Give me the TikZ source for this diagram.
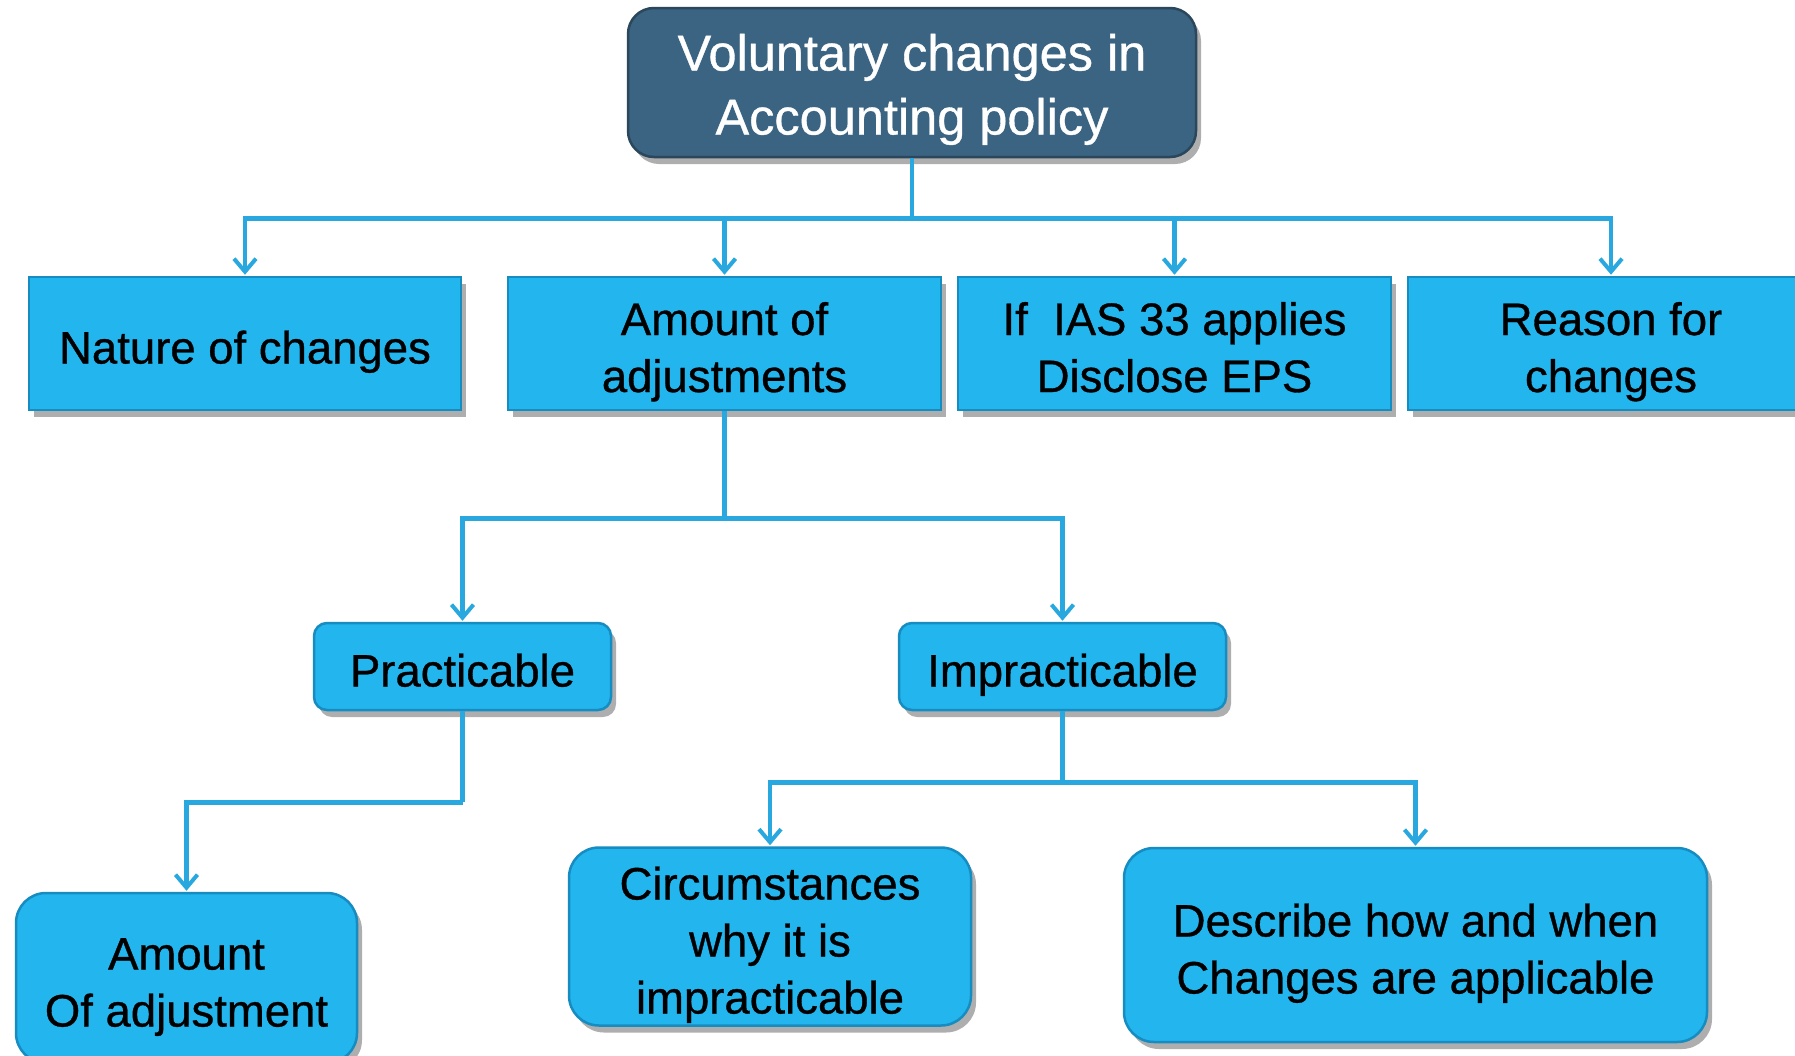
\documentclass[tikz,border=0pt]{standalone}
\usepackage{fontspec}
\setmainfont{Liberation Sans}[FakeBold=0.7]
\usetikzlibrary{arrows.meta,shadows}
\definecolor{rootfill}{HTML}{3B6482}
\definecolor{rootline}{HTML}{2A475C}
\definecolor{boxfill}{HTML}{22B5EE}
\definecolor{boxline}{HTML}{178CC0}
\definecolor{connc}{HTML}{29A8DF}
\newcommand\tstr[1]{\rule{0pt}{#1}}
\newcommand\bstr[1]{\rule[-#1]{0pt}{#1}}
\tikzset{
  shad/.style={drop shadow={shadow xshift=5pt,shadow yshift=-7pt,opacity=0.45,fill=black!70}},
  rootbox/.style={shad,draw=rootline,line width=2.5pt,fill=rootfill,rounded corners=26pt,
    text=white,align=center,inner sep=0pt,font=\fontsize{50.5}{64}\selectfont},
  sqbox/.style={shad,draw=boxline,line width=2.5pt,fill=boxfill,align=center,inner sep=0pt,
    font=\fontsize{45.5}{57}\selectfont},
  rndbox/.style={sqbox,rounded corners=13pt},
  bigbox/.style={sqbox,rounded corners=30pt},
  conn/.style={draw=connc,line width=4.5pt},
  arr/.style={conn,-{Straight Barb[length=13pt,width=22pt,line width=4pt]}},
}
\begin{document}
\begin{tikzpicture}[x=1pt,y=-1pt]
\useasboundingbox[fill=white] (0,0) rectangle (1795,1055);
% nodes
\node[rootbox,minimum width=568pt,minimum height=149pt] (root) at (912,82.5) {\tstr{53pt}Voluntary changes in\\Accounting policy\bstr{13pt}};
\node[sqbox,minimum width=432pt,minimum height=133pt] (nat) at (245,343.5) {\tstr{52pt}Nature of changes\bstr{12pt}};
\node[sqbox,minimum width=433pt,minimum height=133pt] (amt) at (724.5,343.5) {\tstr{52pt}Amount of\\adjustments\bstr{12pt}};
\node[sqbox,minimum width=433pt,minimum height=133pt] (ias) at (1174.5,343.5) {\tstr{52pt}If\ \ IAS 33 applies\\Disclose EPS\bstr{12pt}};
\node[sqbox,minimum width=406pt,minimum height=133pt] (rea) at (1611,343.5) {\tstr{52pt}Reason for\\changes\bstr{12pt}};
\node[rndbox,minimum width=297pt,minimum height=87pt] (prac) at (462.5,666.5) {\tstr{52pt}Practicable\bstr{12pt}};
\node[rndbox,minimum width=327pt,minimum height=87pt] (impr) at (1062.5,666.5) {\tstr{52pt}Impracticable\bstr{12pt}};
\node[bigbox,minimum width=341pt,minimum height=170pt] (adj) at (186.5,978) {\tstr{52pt}Amount\\Of adjustment\bstr{12pt}};
\node[bigbox,minimum width=402pt,minimum height=177pt] (circ) at (770,936.5) {\tstr{52pt}Circumstances\\why it is\\impracticable\bstr{12pt}};
\node[bigbox,minimum width=583pt,minimum height=194pt] (desc) at (1415.5,945) {\tstr{52pt}Describe how and when\\Changes are applicable\bstr{12pt}};
% connectors
\coordinate (b1) at ([yshift=-60pt]root.south);
\draw[conn] (root.south) -- (b1);
\draw[arr] (b1) -| ([yshift=1pt]nat.north);
\draw[arr] (b1) -| ([yshift=1pt]amt.north);
\draw[arr] (b1) -| ([yshift=1pt]ias.north);
\draw[arr] (b1) -| ([yshift=1pt]rea.north);
\coordinate (b2) at ([yshift=-107pt]amt.south);
\draw[conn] (amt.south) -- (b2);
\draw[arr] (b2) -| ([yshift=1pt]prac.north);
\draw[arr] (b2) -| ([yshift=1pt]impr.north);
\coordinate (b3) at ([yshift=-91pt]prac.south);
\draw[conn] (prac.south) -- (b3);
\draw[arr] (b3) -| ([yshift=1pt]adj.north);
\coordinate (b4) at ([yshift=-71pt]impr.south);
\draw[conn] (impr.south) -- (b4);
\draw[arr] (b4) -| ([yshift=1pt]circ.north);
\draw[arr] (b4) -| ([yshift=1pt]desc.north);
\end{tikzpicture}
\end{document}
